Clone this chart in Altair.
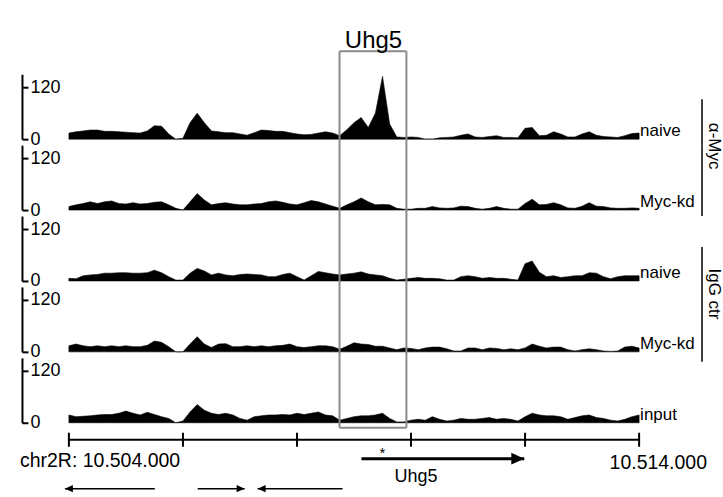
import altair as alt
import pandas as pd

# ---------------- data ----------------
START = 10504000
END = 10514000
STEP = 125
positions = [START + STEP * i for i in range(81)]

myc_naive = [14, 17, 19, 21, 21, 18, 18, 17, 16, 15, 14,
             19, 31, 30, 12, 0, 2, 38, 60, 38, 19,
             17, 15, 15, 12, 9, 15, 21, 20, 18, 18,
             15, 12, 10, 11, 14, 17, 14, 8, 22, 38,
             50, 27, 60, 145, 35, 5, 4, 5, 4, 0,
             0, 3, 4, 5, 9, 12, 5, 4, 6, 8,
             4, 4, 3, 25, 27, 8, 9, 17, 12, 5,
             5, 12, 17, 9, 6, 5, 4, 8, 13, 14]
myc_kd = [8, 12, 15, 19, 15, 19, 21, 15, 14, 17, 14,
          15, 18, 19, 12, 4, 0, 19, 38, 23, 12,
          15, 17, 14, 12, 12, 14, 15, 19, 21, 18,
          14, 12, 17, 22, 19, 14, 9, 4, 12, 19,
          28, 19, 12, 13, 12, 4, 2, 2, 4, 4,
          8, 5, 4, 5, 9, 8, 4, 2, 4, 8,
          4, 2, 2, 15, 25, 12, 13, 17, 12, 5,
          4, 9, 17, 9, 8, 5, 4, 4, 5, 4]
igg_naive = [6, 5, 12, 14, 15, 18, 18, 19, 19, 18, 18,
             19, 25, 19, 10, 2, 2, 18, 29, 23, 14,
             18, 14, 12, 15, 16, 15, 14, 10, 10, 15,
             18, 10, 2, 12, 22, 19, 16, 14, 16, 18,
             21, 16, 14, 12, 6, 2, 4, 6, 8, 6,
             6, 5, 2, 2, 10, 12, 10, 6, 8, 6,
             6, 4, 2, 40, 46, 20, 10, 12, 8, 10,
             12, 12, 19, 18, 10, 5, 10, 12, 12, 12]
igg_kd = [14, 18, 14, 12, 14, 12, 14, 12, 14, 12, 12,
          15, 25, 22, 12, 0, 0, 18, 35, 18, 10,
          18, 19, 12, 12, 14, 12, 14, 12, 14, 15,
          18, 12, 10, 12, 14, 14, 12, 6, 13, 21,
          18, 17, 13, 13, 9, 5, 9, 8, 5, 9,
          11, 11, 7, 2, 2, 9, 9, 5, 9, 8,
          5, 7, 5, 9, 18, 13, 9, 11, 11, 5,
          2, 5, 7, 5, 2, 1, 2, 11, 13, 9]
input_vals = [18, 14, 15, 16, 18, 19, 19, 22, 27, 22, 18,
              24, 19, 14, 10, 0, 4, 25, 42, 29, 22,
              19, 22, 18, 10, 6, 14, 16, 18, 18, 19,
              18, 22, 19, 22, 25, 18, 16, 6, 10, 14,
              16, 16, 18, 22, 10, 2, 2, 6, 8, 6,
              14, 8, 4, 6, 10, 8, 8, 10, 12, 8,
              10, 8, 4, 14, 22, 18, 16, 16, 14, 8,
              12, 16, 18, 12, 10, 6, 4, 8, 14, 18]

track_values = [myc_naive, myc_kd, igg_naive, igg_kd, input_vals]
track_labels = ["naive", "Myc-kd", "naive", "Myc-kd", "input"]
axis_ticks = [0, 120]
groups = ["α-Myc", "IgG ctr"]

box_start, box_end = 10508746, 10509919
tick_positions = [10504000, 10506000, 10508000, 10510000, 10512000, 10514000]
coord_left = "chr2R: 10.504.000"
coord_right = "10.514.000"
gene_name = "Uhg5"
gene_start, gene_end = 10509131, 10511986
star_pos = 10509499
other_starts = [10503930, 10506259, 10507310]
other_ends = [10505506, 10507082, 10508799]
other_strands = ["-", "+", "-"]

# ---------------- style ----------------
W, H, GAP = 571, 65, 6
FONT = "Liberation Sans"
GRAY = "#8a8a8a"
xscale = alt.Scale(domain=[START, END], nice=False, zero=False)


def X(f):
    return alt.X(f, scale=xscale, axis=None)


def track_panel(i):
    df = pd.DataFrame({"pos": positions, "v": track_values[i]})
    area = alt.Chart(df).mark_area(
        color="black", interpolate="linear", stroke="black", strokeWidth=0.6
    ).encode(
        x=X("pos:Q"),
        y=alt.Y(
            "v:Q",
            scale=alt.Scale(domain=[0, 150], nice=False),
            axis=alt.Axis(
                orient="right", offset=-(W + 47), values=axis_ticks, title=None,
                grid=False, domainColor="black", domainWidth=2, tickColor="black",
                tickWidth=2, tickSize=6, labelFont=FONT, labelFontSize=18,
                labelColor="black", labelPadding=2, labelFlush=False,
            ),
        ),
    )
    lab = alt.Chart(pd.DataFrame({"t": [track_labels[i]]})).mark_text(
        align="left", baseline="alphabetic", dx=1, dy=-3, font=FONT,
        fontSize=17, color="black"
    ).encode(x=alt.value(W), y=alt.value(H), text="t:N")

    top = -23 if i == 0 else 0
    bottom = 70 if i == 4 else H + GAP
    sides = alt.Chart(pd.DataFrame({"p": [box_start, box_end]})).mark_rule(
        color=GRAY, strokeWidth=2
    ).encode(x=X("p:Q"), y=alt.value(top), y2=alt.value(bottom))
    layers = [area, lab, sides]
    edge_df = pd.DataFrame({"s": [box_start], "e": [box_end]})
    if i == 0:
        layers.append(alt.Chart(edge_df).mark_rule(color=GRAY, strokeWidth=2)
                      .encode(x=X("s:Q"), x2="e:Q", y=alt.value(top)))
    if i == 4:
        layers.append(alt.Chart(edge_df).mark_rule(color=GRAY, strokeWidth=2)
                      .encode(x=X("s:Q"), x2="e:Q", y=alt.value(bottom)))

    # group brackets on the right
    spans = {0: (25, H + GAP), 1: (0, H + GAP), 2: (31, H + GAP), 3: (0, 75)}
    if i in spans:
        a, b = spans[i]
        layers.append(alt.Chart(pd.DataFrame({"d": [0]})).mark_rule(
            color="black", strokeWidth=1.5
        ).encode(x=alt.value(634), y=alt.value(a), y2=alt.value(b)))
    if i in (0, 2):
        g = groups[0] if i == 0 else groups[1]
        layers.append(alt.Chart(pd.DataFrame({"t": [g]})).mark_text(
            angle=90, align="center", baseline="middle", font=FONT,
            fontSize=17, color="black"
        ).encode(x=alt.value(646), y=alt.value(72 if i == 0 else 78), text="t:N"))
    return alt.layer(*layers).properties(width=W, height=H)


panels = [track_panel(i) for i in range(5)]

# ---------------- bottom coordinate/gene panel ----------------
axis_line = alt.Chart(pd.DataFrame({"s": [START], "e": [END]})).mark_rule(
    color="black", strokeWidth=2
).encode(x=X("s:Q"), x2="e:Q", y=alt.value(11))
ticks = alt.Chart(pd.DataFrame({"t": tick_positions})).mark_rule(
    color="black", strokeWidth=2
).encode(x=X("t:Q"), y=alt.value(4), y2=alt.value(18))
left_lbl = alt.Chart(pd.DataFrame({"p": [START], "t": [coord_left]})).mark_text(
    align="left", baseline="middle", dx=-49, font=FONT, fontSize=19.5, color="black"
).encode(x=X("p:Q"), y=alt.value(32), text="t:N")
right_lbl = alt.Chart(pd.DataFrame({"p": [END], "t": [coord_right]})).mark_text(
    align="right", baseline="middle", dx=68, font=FONT, fontSize=19.5, color="black"
).encode(x=X("p:Q"), y=alt.value(34), text="t:N")
star = alt.Chart(pd.DataFrame({"p": [star_pos], "t": ["*"]})).mark_text(
    align="center", baseline="middle", font=FONT, fontSize=15, color="black"
).encode(x=X("p:Q"), y=alt.value(24), text="t:N")

gene_df = pd.DataFrame({"s": [gene_start], "e": [gene_end], "n": [gene_name]})
gene_line = alt.Chart(gene_df).mark_rule(color="black", strokeWidth=3).encode(
    x=X("s:Q"), x2="e:Q", y=alt.value(30))
HEAD_R = "M-1,-0.45L0,0L-1,0.45Z"
HEAD_L = "M1,-0.45L0,0L1,0.45Z"
gene_head = alt.Chart(gene_df).mark_point(
    shape=HEAD_R, size=676, filled=True, opacity=1, color="black", strokeWidth=0
).encode(x=X("e:Q"), y=alt.value(30))
gene_lbl = alt.Chart(gene_df).mark_text(
    align="left", baseline="middle", dx=33, font=FONT, fontSize=18, color="black"
).encode(x=X("s:Q"), y=alt.value(48), text="n:N")

others = pd.DataFrame({"s": other_starts, "e": other_ends, "strand": other_strands})
others["head"] = [s if st == "-" else e for s, e, st in zip(other_starts, other_ends, other_strands)]
oth_line = alt.Chart(others).mark_rule(color="black", strokeWidth=1.5).encode(
    x=X("s:Q"), x2="e:Q", y=alt.value(60))
oth_head = alt.Chart(others).mark_point(
    size=256, filled=True, opacity=1, color="black", strokeWidth=0
).encode(
    x=X("head:Q"), y=alt.value(60),
    shape=alt.Shape("strand:N", scale=alt.Scale(domain=["+", "-"], range=[HEAD_R, HEAD_L]), legend=None),
)

bottom = alt.layer(axis_line, ticks, left_lbl, right_lbl, star, gene_line, gene_head,
                   gene_lbl, oth_line, oth_head).properties(width=W, height=H)

chart = alt.VConcatChart(
    vconcat=panels + [bottom], spacing=GAP, bounds="flush",
    title=alt.TitleParams("Uhg5", font=FONT, fontSize=24, fontWeight="normal",
                          anchor="middle", dx=2, offset=-3, color="black"),
    padding={"left": 20, "top": 29, "right": 0, "bottom": 0},
    background="white",
).configure_view(stroke=None)

chart.save("out.html", embed_options={"renderer": "svg", "actions": False})
